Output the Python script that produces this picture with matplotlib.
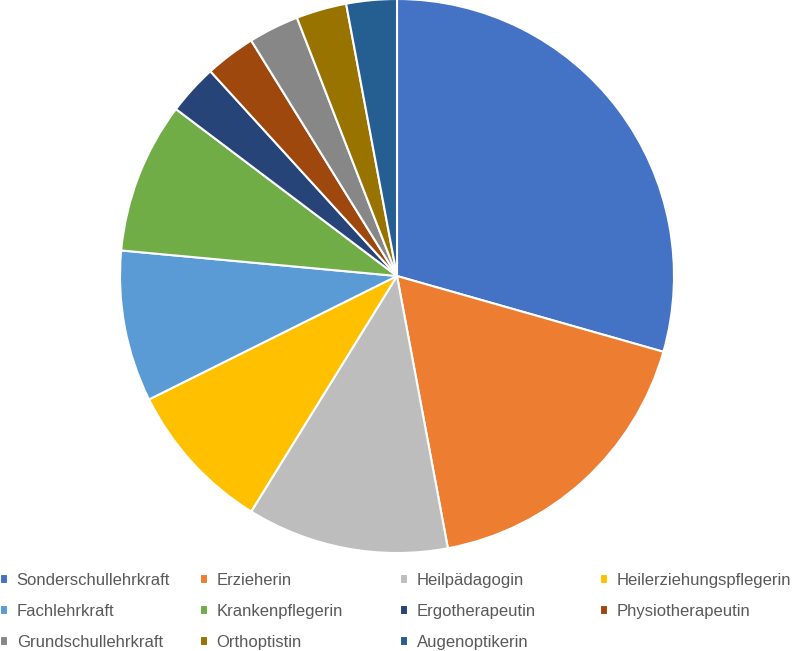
import matplotlib
matplotlib.use("Agg")
import matplotlib.pyplot as plt

plt.rcParams['font.family'] = ['Liberation Sans', 'DejaVu Sans']

labels = ["Sonderschullehrkraft", "Erzieherin", "Heilpädagogin", "Heilerziehungspflegerin",
          "Fachlehrkraft", "Krankenpflegerin", "Ergotherapeutin", "Physiotherapeutin",
          "Grundschullehrkraft", "Orthoptistin", "Augenoptikerin"]
values = [10, 6, 4, 3, 3, 3, 1, 1, 1, 1, 1]
colors = ["#4472C4", "#ED7D31", "#BDBDBD", "#FFC000", "#5B9BD5", "#70AD47",
          "#264478", "#9E480E", "#878787", "#997300", "#255E91"]

fig = plt.figure(figsize=(8, 6.51), dpi=100)
ax = fig.add_axes([(397 - 277) / 800, (651 - 553) / 651, 554 / 800, 554 / 651])
wedges, _ = ax.pie(values, colors=colors, startangle=90, counterclock=False,
                   wedgeprops=dict(edgecolor="white", linewidth=1.5))
ax.set_xlim(-1, 1)
ax.set_ylim(-1, 1)
ax.set_aspect("equal")

for c in range(4):
    idx = list(range(c, len(labels), 4))
    leg = fig.legend([wedges[i] for i in idx], [labels[i] for i in idx], ncol=1,
                     loc="upper left", bbox_to_anchor=(c * 0.25, (651 - 573) / 651),
                     frameon=False, fontsize=12, handlelength=0.5,
                     handleheight=0.5, handletextpad=0.5, labelspacing=0.95,
                     labelcolor="#595959", borderaxespad=0, borderpad=0)
fig.savefig("out.png", dpi=100)
